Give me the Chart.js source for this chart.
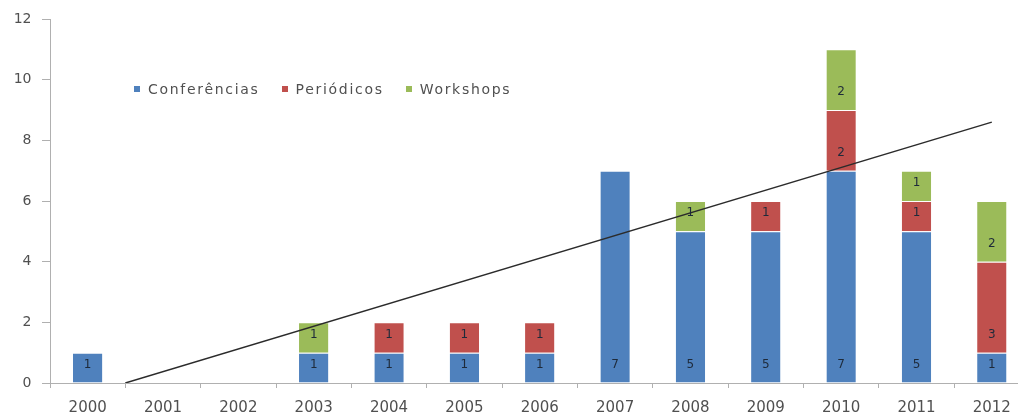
<!DOCTYPE html>
<html>
<head>
<meta charset="utf-8">
<script src="https://cdn.jsdelivr.net/npm/chart.js@4"></script>
<style>
    html, body { margin: 0; padding: 0; background: #fff; overflow: hidden; }
    #wrap { position: relative; width: 1040px; height: 419px; }
    #legend {
        position: absolute; left: 134px; top: 81px;
        font: 14px "DejaVu Sans", sans-serif; color: #505050; letter-spacing: 1.7px;
        display: flex; gap: 22px; white-space: nowrap;
    }
    #legend span.box { display: inline-block; width: 6px; height: 6px; margin-right: 8px; vertical-align: 2px; }
</style>
</head>
<body>
<div id="wrap">
    <canvas id="pubChart" width="1040" height="419"></canvas>
    <div id="legend"></div>
</div>
<script>
// anos e publicacoes por tipo
const years = ["2000", "2001", "2002", "2003", "2004", "2005", "2006", "2007", "2008", "2009", "2010", "2011", "2012"];
const conferencias = [1, 0, 0, 1, 1, 1, 1, 7, 5, 5, 7, 5, 1];
const periodicos   = [0, 0, 0, 0, 1, 1, 1, 0, 0, 1, 2, 1, 3];
const workshops    = [0, 0, 0, 1, 0, 0, 0, 0, 1, 0, 2, 1, 2];
// linha de tendencia (posicao no eixo de anos, valor)
const trendX = [0.5, 12];
const trendY = [0, 8.6];
const yTicks = [0, 2, 4, 6, 8, 10, 12];

const series = [
    { label: "Conferências", data: conferencias, color: "#4F81BD" },
    { label: "Periódicos", data: periodicos, color: "#C0504D" },
    { label: "Workshops", data: workshops, color: "#9BBB59" }
];

// legenda dentro da area do grafico
const legend = document.getElementById("legend");
series.forEach(s => {
    const item = document.createElement("div");
    item.innerHTML = '<span class="box" style="background:' + s.color + '"></span>' + s.label;
    legend.appendChild(item);
});

// rotulos dos valores perto da base de cada segmento
const barLabels = {
    id: "barLabels",
    afterDatasetsDraw(chart) {
        const ctx = chart.ctx;
        ctx.save();
        ctx.font = '12px "DejaVu Sans", sans-serif';
        ctx.fillStyle = "#1e2a3a";
        ctx.textAlign = "center";
        ctx.textBaseline = "middle";
        series.forEach((s, di) => {
            const meta = chart.getDatasetMeta(di);
            meta.data.forEach((bar, i) => {
                const v = s.data[i];
                if (!v) return;
                ctx.fillText(String(v), bar.x, bar.base - 18);
            });
        });
        ctx.restore();
    }
};

const datasets = series.map(s => ({
    type: "bar",
    label: s.label,
    data: s.data,
    stack: "pub",
    grouped: false,
    backgroundColor: s.color,
    borderColor: "#ffffff",
    borderWidth: { top: 1, bottom: 0, left: 0, right: 0 },
    borderSkipped: false,
    categoryPercentage: 1,
    barPercentage: 0.39,
    order: 1
}));

datasets.push({
    type: "line",
    label: "Tendência",
    data: trendX.map((x, i) => ({ x: x, y: trendY[i] })),
    xAxisID: "xLine",
    stack: "trend",
    borderColor: "#2b2b2b",
    borderWidth: 1.5,
    pointRadius: 0,
    fill: false,
    order: 0
});

new Chart(document.getElementById("pubChart"), {
    data: { labels: years, datasets: datasets },
    options: {
        responsive: false,
        animation: false,
        layout: { padding: { top: 19, right: 10.5, left: 0, bottom: 0 } },
        plugins: { legend: { display: false }, tooltip: { enabled: false } },
        scales: {
            x: {
                stacked: true,
                offset: true,
                grid: { offset: true, drawOnChartArea: false, drawTicks: true, tickLength: 5, color: "#b0b0b0" },
                border: { color: "#b0b0b0" },
                ticks: { color: "#505050", padding: 11, font: { family: "DejaVu Sans", size: 15 }, maxRotation: 0 },
                afterFit(scale) { scale.height = 36; }
            },
            xLine: {
                type: "linear",
                display: false,
                min: -0.5,
                max: 12.5
            },
            y: {
                stacked: true,
                min: 0,
                max: 12,
                afterBuildTicks(scale) { scale.ticks = yTicks.map(v => ({ value: v })); },
                grid: { drawOnChartArea: false, drawTicks: true, tickLength: 8, color: "#b0b0b0" },
                border: { color: "#b0b0b0" },
                ticks: { color: "#505050", padding: 10.5, font: { family: "DejaVu Sans", size: 14 } },
                afterFit(scale) { scale.width = 50; }
            }
        }
    },
    plugins: [barLabels]
});
</script>
</body>
</html>
